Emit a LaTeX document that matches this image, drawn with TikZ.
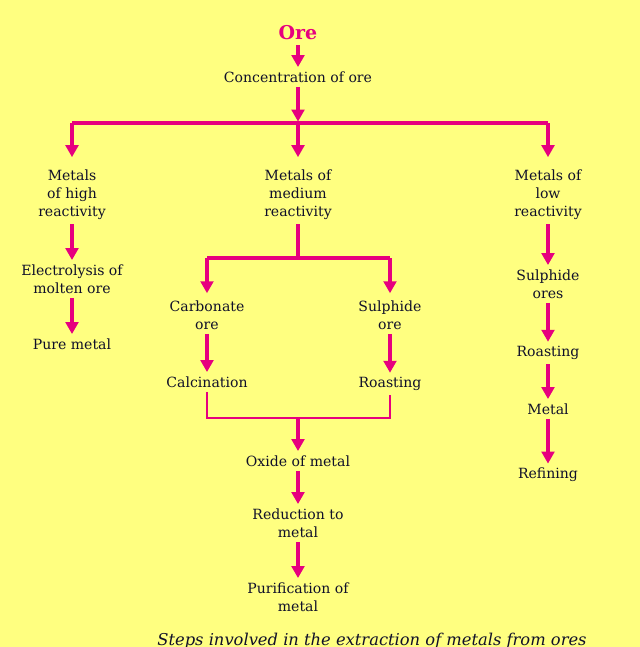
\documentclass[tikz,border=0pt]{standalone}
\usepackage{fontspec}
\setmainfont{DejaVu Serif}
\usetikzlibrary{arrows.meta,positioning}
\definecolor{orebg}{HTML}{FFFF80}
\definecolor{oremag}{HTML}{E6007E}
\definecolor{oreink}{HTML}{10102A}

\begin{document}
\begin{tikzpicture}[x=0.025cm, y=-0.025cm,
  sText/.style ={font=\fontsize{10}{12.8}\selectfont, text=oreink, align=center, inner sep=3pt},
  sArrow/.style={oremag, line width=2.4pt, -{Triangle[width=9pt,length=8.5pt]}},
  sBar/.style  ={oremag, line width=2.4pt},
  sJoin/.style ={oremag, line width=1.3pt},
]
\fill[orebg] (0,0) rectangle (640,647);
\useasboundingbox (0,0) rectangle (640,647);

% ore and concentration
\node[font=\fontsize{13.5}{15}\selectfont\bfseries, text=oremag] (ore) at (298,33) {Ore};
\node[sText] (conc) at (298,77) {Concentration of ore};
\coordinate (split) at (298,123);

% three reactivity classes
\node[sText] (high)   at (72,195)  {Metals\\of high\\reactivity};
\node[sText] (medium) at (298,195) {Metals of\\medium\\reactivity};
\node[sText] (low)    at (548,195) {Metals of\\low\\reactivity};

% high reactivity
\node[sText] (electro) at (72,279) {Electrolysis of\\molten ore};
\node[sText] (pure)    at (72,344) {Pure metal};

% medium reactivity
\coordinate (msplit) at (298,258);
\node[sText] (carb)   at (207,315) {Carbonate\\ore};
\node[sText] (sulph)  at (390,315) {Sulphide\\ore};
\node[sText] (calc)   at (207,382) {Calcination};
\node[sText] (roastm) at (390,384) {Roasting};
\coordinate (mjoin) at (298,418);
\node[sText] (oxide) at (298,461) {Oxide of metal};
\node[sText] (reduc) at (298,523) {Reduction to\\metal};
\node[sText] (purif) at (298,597) {Purification of\\metal};

% low reactivity
\node[sText] (sulphl) at (548,284) {Sulphide\\ores};
\node[sText] (roastl) at (548,353) {Roasting};
\node[sText] (metal)  at (548,409) {Metal};
\node[sText] (refin)  at (548,475) {Refining};

% connectors
\draw[sArrow] (ore) -- (conc);
\draw[sArrow, shorten >=1pt] (conc) -- (split);
\draw[sBar] (high|-split) -- (low|-split);
\foreach \n in {high,medium,low}
  \draw[sArrow, shorten >=6pt] (\n|-split) -- (\n);
\draw[sArrow] (high) -- (electro);
\draw[sArrow] (electro) -- (pure);
\draw[sBar] (medium) -- (msplit);
\draw[sBar] (carb|-msplit) -- (sulph|-msplit);
\draw[sArrow, shorten >=2pt] (carb|-msplit) -- (carb);
\draw[sArrow, shorten >=2pt] (sulph|-msplit) -- (sulph);
\draw[sArrow] (carb) -- (calc);
\draw[sArrow] (sulph) -- (roastm);
\draw[sJoin] (calc.south) -- (calc.south|-mjoin) -- (roastm.south|-mjoin) -- (roastm.south);
\draw[sArrow] (mjoin) -- (oxide);
\draw[sArrow] (oxide) -- (reduc);
\draw[sArrow] (reduc) -- (purif);
\draw[sArrow] (low) -- (sulphl);
\draw[sArrow] (sulphl) -- (roastl);
\draw[sArrow] (roastl) -- (metal);
\draw[sArrow] (metal) -- (refin);

% caption
\node[font=\fontsize{11.6}{13}\selectfont\itshape, text=oreink, anchor=base] (caption) at (372,645)
  {Steps involved in the extraction of metals from ores};
\end{tikzpicture}
\end{document}
